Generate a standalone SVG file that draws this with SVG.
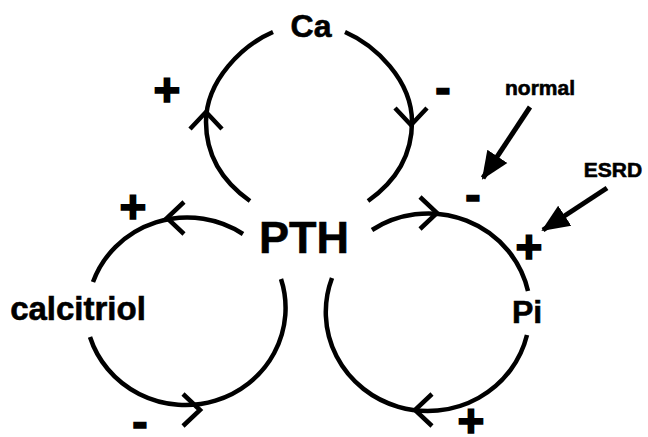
<svg xmlns="http://www.w3.org/2000/svg" width="648" height="437" viewBox="0 0 648 437">
<style>
.loop{fill:none;stroke:#000;stroke-width:4.5;stroke-linecap:butt}
.chev{fill:none;stroke:#000;stroke-width:4.5;stroke-linejoin:miter;stroke-linecap:butt}
.lbl{font-family:"Liberation Sans",Arial,Helvetica,sans-serif;font-weight:bold;fill:#000;stroke:#000;stroke-width:0.6;text-anchor:middle}
.sign{font-family:"Liberation Sans",Arial,Helvetica,sans-serif;font-weight:bold;fill:#000;stroke:#000;stroke-width:1.6;text-anchor:middle;font-size:46px}
.ptr{fill:none;stroke:#000;stroke-width:5}
</style>
<defs>
<path id="chev" class="chev" d="M-16,17 L0,0 L16,17"/>
<marker id="head" markerUnits="userSpaceOnUse" markerWidth="30" markerHeight="26" refX="26" refY="12" orient="auto" viewBox="0 0 30 24">
<path d="M0,0 L28,12 L0,24 Z" fill="#000"/>
</marker>
</defs>
<rect width="648" height="437" fill="#fff"/>
<g id="connectors">
<path class="loop" d="M273,32 C243,45 206,80 206,122 C206,160 226,184 250,201"/>
<path class="loop" d="M345,32 C375,45 412,80 412,122 C412,160 392,184 368,201"/>
<path class="loop" d="M243,234 A100,97 0 0 0 93,282"/>
<path class="loop" d="M90,337 A100,97 0 1 0 281,279"/>
<path class="loop" d="M372,230 A102,99 0 0 1 528,291"/>
<path class="loop" d="M527,335 A102,99 0 1 1 332,278"/>
<use href="#chev" transform="translate(206,112)"/>
<use href="#chev" transform="translate(411,125) rotate(180)"/>
<use href="#chev" transform="translate(167,218) rotate(-90)"/>
<use href="#chev" transform="translate(200,410) rotate(90)"/>
<use href="#chev" transform="translate(437,213) rotate(90)"/>
<use href="#chev" transform="translate(415,410) rotate(-90)"/>
<line class="ptr" x1="530" y1="107" x2="483" y2="178" marker-end="url(#head)"/>
<line class="ptr" x1="607" y1="188" x2="543" y2="230" marker-end="url(#head)"/>
</g>
<g id="node-ca"><text class="lbl" x="311" y="37" font-size="32">Ca</text></g>
<g id="node-pth"><text class="lbl" x="304" y="253" font-size="45">PTH</text></g>
<g id="node-calcitriol"><text class="lbl" x="78" y="320" font-size="33">calcitriol</text></g>
<g id="node-pi"><text class="lbl" x="527" y="323" font-size="32">Pi</text></g>
<g id="node-normal"><text class="lbl" x="540" y="95" font-size="21">normal</text></g>
<g id="node-esrd"><text class="lbl" x="613" y="177" font-size="21">ESRD</text></g>
<g id="signs">
<text class="sign" x="167" y="106">+</text>
<text class="sign" x="443" y="103">-</text>
<text class="sign" x="133" y="223">+</text>
<text class="sign" x="140" y="437">-</text>
<text class="sign" x="473" y="210">-</text>
<text class="sign" x="529" y="263">+</text>
<text class="sign" x="471" y="437">+</text>
</g>
</svg>
